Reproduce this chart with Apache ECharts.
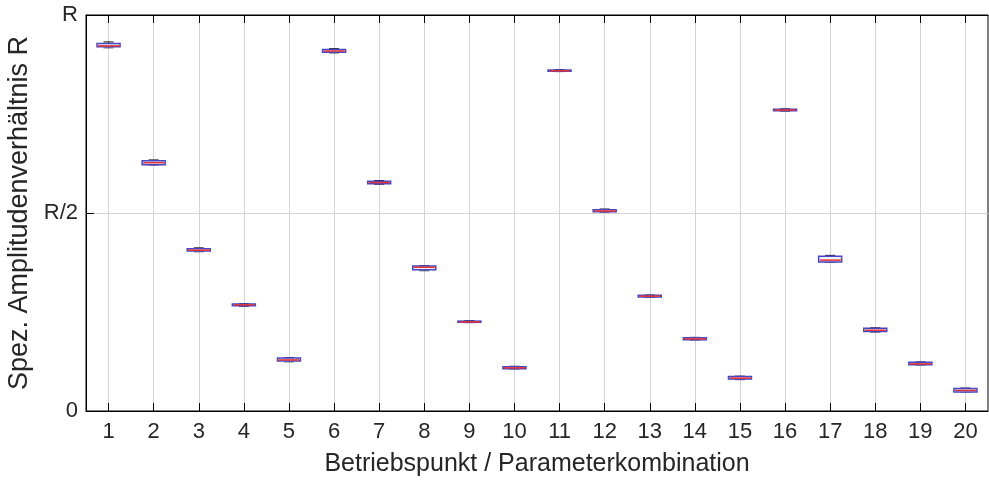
<!DOCTYPE html>
<html><head><meta charset="utf-8">
<script src="https://cdn.jsdelivr.net/npm/echarts@6/dist/echarts.min.js"></script>
<style>html,body{margin:0;padding:0;background:#fff}#c{width:989px;height:480px}</style>
</head><body><div id="c"></div>
<script>
const categories = ['1','2','3','4','5','6','7','8','9','10','11','12','13','14','15','16','17','18','19','20'];
// [min, Q1, median, Q3, max] as fraction of R
const boxData = [
  [0.917, 0.920, 0.922, 0.928, 0.932],
  [0.621, 0.622, 0.627, 0.632, 0.634],
  [0.402, 0.404, 0.406, 0.410, 0.412],
  [0.264, 0.266, 0.268, 0.270, 0.271],
  [0.124, 0.126, 0.129, 0.134, 0.135],
  [0.904, 0.906, 0.909, 0.913, 0.915],
  [0.572, 0.574, 0.577, 0.580, 0.582],
  [0.354, 0.357, 0.363, 0.366, 0.367],
  [0.223, 0.224, 0.225, 0.227, 0.228],
  [0.106, 0.107, 0.109, 0.112, 0.113],
  [0.857, 0.858, 0.859, 0.861, 0.862],
  [0.502, 0.503, 0.505, 0.508, 0.510],
  [0.287, 0.288, 0.290, 0.292, 0.293],
  [0.179, 0.180, 0.182, 0.185, 0.186],
  [0.079, 0.081, 0.083, 0.087, 0.088],
  [0.757, 0.758, 0.760, 0.762, 0.763],
  [0.375, 0.376, 0.381, 0.391, 0.393],
  [0.199, 0.201, 0.204, 0.209, 0.210],
  [0.116, 0.117, 0.119, 0.123, 0.124],
  [0.048, 0.048, 0.052, 0.057, 0.058]
];
const yTicks = {0: '0', 0.5: 'R/2', 1: 'R'};
const yName = 'Spez. Amplitudenverhältnis R';
const xName = 'Betriebspunkt / Parameterkombination';

const seriesData = boxData.map((d, i) => [i, d[0], d[1], d[2], d[3], d[4]]);
const font = 'Liberation Sans, Arial, sans-serif';
const BOXW = 23, CAPW = 10;

function renderBox(params, api) {
  const i = api.value(0);
  const pMin = api.coord([i, api.value(1)]);
  const pQ1 = api.coord([i, api.value(2)]);
  const pMed = api.coord([i, api.value(3)]);
  const pQ3 = api.coord([i, api.value(4)]);
  const pMax = api.coord([i, api.value(5)]);
  const x = pMed[0];
  const black = {stroke: '#111', lineWidth: 1, fill: null};
  return {
    type: 'group',
    children: [
      {type: 'line', shape: {x1: x, y1: pMax[1], x2: x, y2: pQ3[1]}, style: black},
      {type: 'line', shape: {x1: x, y1: pQ1[1], x2: x, y2: pMin[1]}, style: black},
      {type: 'line', shape: {x1: x - CAPW / 2, y1: pMax[1], x2: x + CAPW / 2, y2: pMax[1]}, style: black},
      {type: 'line', shape: {x1: x - CAPW / 2, y1: pMin[1], x2: x + CAPW / 2, y2: pMin[1]}, style: {stroke: '#555', lineWidth: 1}},
      {type: 'rect', shape: {x: x - BOXW / 2, y: pQ3[1], width: BOXW, height: pQ1[1] - pQ3[1]},
        style: {fill: '#eef0fa', stroke: '#4646c8', lineWidth: 1.5}},
      {type: 'line', shape: {x1: x - BOXW / 2 + 1, y1: pMed[1], x2: x + BOXW / 2 - 1, y2: pMed[1]},
        style: {stroke: '#e8322e', lineWidth: 1.5}}
    ]
  };
}

const chart = echarts.init(document.getElementById('c'));
chart.setOption({
  animation: false,
  grid: {left: 86, right: 1, top: 15, bottom: 69, outerBoundsMode: 'none', containLabel: false,
    show: true, borderColor: '#000', borderWidth: 1, backgroundColor: 'transparent'},
  xAxis: [{
    type: 'category', data: categories, boundaryGap: true,
    name: xName, nameLocation: 'middle', nameGap: 41,
    nameTextStyle: {fontSize: 25, color: '#262626', fontFamily: font},
    axisLine: {show: true, lineStyle: {color: '#000'}},
    axisTick: {show: true, inside: true, length: 8, alignWithLabel: true, lineStyle: {color: '#000'}},
    axisLabel: {fontSize: 22, color: '#262626', fontFamily: font, margin: 10},
    splitLine: {show: true, alignWithLabel: true, lineStyle: {color: '#d4d4d4', width: 1}}
  }, {
    type: 'category', data: categories, boundaryGap: true, position: 'top',
    axisLine: {show: true, lineStyle: {color: '#000'}},
    axisTick: {show: true, inside: true, length: 8, alignWithLabel: true, lineStyle: {color: '#000'}},
    axisLabel: {show: false}, splitLine: {show: false}
  }],
  yAxis: {
    type: 'value', min: 0, max: 1, interval: 0.5,
    name: yName, nameLocation: 'middle', nameGap: 46,
    nameTextStyle: {fontSize: 27, color: '#262626', fontFamily: font},
    axisLine: {show: true, lineStyle: {color: '#000'}},
    axisTick: {show: true, inside: true, length: 8, lineStyle: {color: '#000'}},
    axisLabel: {fontSize: 22, color: '#262626', fontFamily: font, margin: 8, formatter: v => yTicks[v] !== undefined ? yTicks[v] : ''},
    splitLine: {show: true, lineStyle: {color: '#d4d4d4', width: 1}}
  },
  series: [{
    type: 'custom', renderItem: renderBox, data: seriesData,
    encode: {x: 0, y: [1, 2, 3, 4, 5]}, z: 5
  }]
});
</script></body></html>
